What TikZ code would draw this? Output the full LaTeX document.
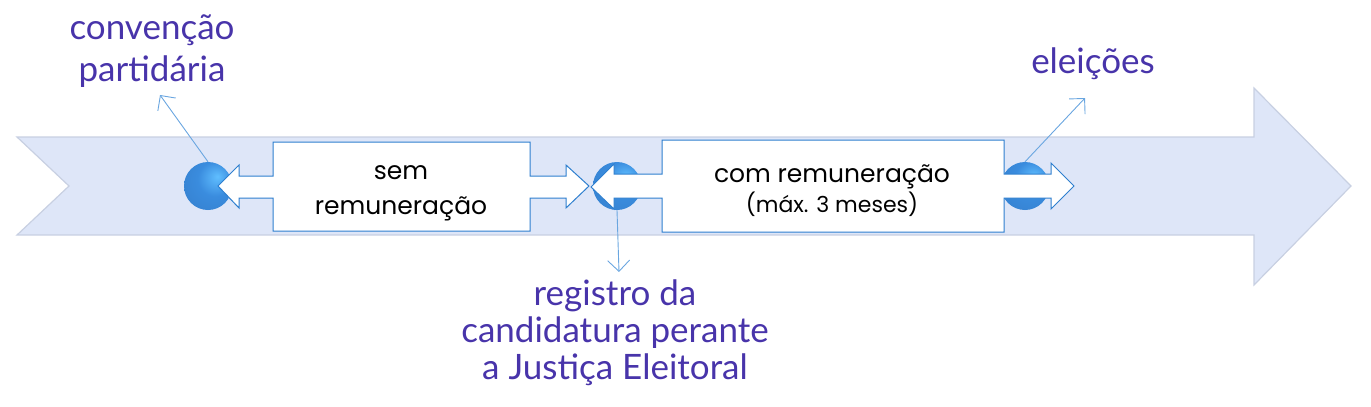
\documentclass[tikz,border=0pt]{standalone}
\usepackage{fontspec}
\setmainfont{Lato}
\newfontfamily\boxfont{Poppins}
\newcommand\smallsz{\fontsize{22}{24}\selectfont}
\usetikzlibrary{arrows.meta}
\definecolor{bandfill}{RGB}{222,230,248}
\definecolor{bandedge}{RGB}{200,208,226}
\definecolor{boxline}{RGB}{46,127,207}
\definecolor{callline}{RGB}{106,166,224}
\definecolor{purpletext}{RGB}{72,52,170}
\definecolor{balldark}{RGB}{42,100,170}
\definecolor{ballmid}{RGB}{58,140,222}
\definecolor{balllight}{RGB}{96,190,255}
\pgfdeclareradialshading{glossball}{\pgfpoint{10bp}{10bp}}{color(0bp)=(balllight); color(18bp)=(ballmid); color(40bp)=(ballmid!70!balldark); color(58bp)=(balldark); color(70bp)=(balldark)}
\tikzset{
  band/.style={fill=bandfill, draw=bandedge, line width=1.2pt, line join=miter},
  ball/.style={circle, minimum size=48pt, inner sep=0pt, shading=glossball},
  arrowbox/.style={fill=white, draw=boxline, line width=1pt, line join=miter},
  boxtext/.style={font=\boxfont\fontsize{25}{35}\selectfont, text=black, align=center},
  label/.style={font=\fontsize{35}{40}\selectfont, text=purpletext, align=center},
  callout/.style={draw=callline, line width=0.9pt, -{Straight Barb[length=11pt,width=22pt,line width=0.9pt]}}
}
\begin{document}
\begin{tikzpicture}[x=1pt,y=-1pt]
\useasboundingbox (0,0) rectangle (1371,407);
% timeline band
\path[band] (17,137) -- (1254,137) -- (1254,88) -- (1351,186) -- (1254,285) -- (1254,235) -- (17,235) -- (69,186) -- cycle;
% milestones
\node[ball] (c1) at (208,186) {};
\node[ball] (c2) at (617,186) {};
\node[ball] (c3) at (1025,186) {};
% period boxes
\path[arrowbox] (273,142) -- (530,142) -- (530,176) -- (566,176) -- (566,165) -- (589,186) -- (566,208) -- (566,198) -- (530,198) -- (530,231) -- (273,231) -- (273,198) -- (239,198) -- (239,208) -- (218,186) -- (239,165) -- (239,176) -- (273,176) -- cycle;
\node[boxtext] (b1) at (401,193) {sem\\remuneração};
\path[arrowbox] (662,140) -- (1004,140) -- (1004,174) -- (1051,174) -- (1051,163) -- (1074,186) -- (1051,209) -- (1051,198) -- (1004,198) -- (1004,232) -- (662,232) -- (662,198) -- (614,198) -- (614,209) -- (591,187) -- (614,164) -- (614,174) -- (662,174) -- cycle;
\node[boxtext, font=\boxfont\fontsize{25}{30}\selectfont] (b2) at (832,191) {com remuneração\\{\smallsz(máx. 3 meses)}};
% labels
\node[label, font=\fontsize{35}{42}\selectfont] (l1) at (152,51) {convenção\\partidária};
\node[label, font=\fontsize{35}{37}\selectfont] (l2) at (615,333) {registro da\\candidatura perante\\a Justiça Eleitoral};
\node[label] (l3) at (1093,64) {eleições};
% callouts
\coordinate (t1) at (160,95);
\coordinate (t2) at (619,272);
\coordinate (t3) at (1085,98);
\draw[callout] (c1.north) -- (t1);
\draw[callout] (c2.south) -- (t2);
\draw[callout] (c3.north) -- (t3);
\end{tikzpicture}
\end{document}
